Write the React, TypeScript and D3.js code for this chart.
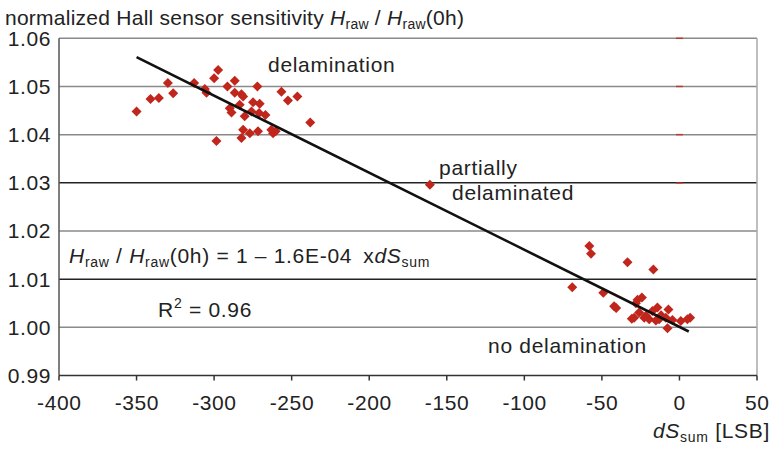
import React from "react";
import * as d3 from "d3";

const xTicks = [-400, -350, -300, -250, -200, -150, -100, -50, 0, 50];
const yTicks = [0.99, 1.0, 1.01, 1.02, 1.03, 1.04, 1.05, 1.06];
const darkGrid = [1.03, 1.01];

// delaminated cluster
const delamX = [-350.0, -341.0, -335.6, -329.8, -326.4, -312.9, -306.0, -304.9, -298.5, -300.0, -297.4, -291.4, -286.7, -286.7, -282.4, -289.9, -288.8, -283.5, -280.3, -275.9, -274.9, -270.6, -272.1, -271.0, -266.9, -281.3, -282.4, -277.0, -271.7, -263.1, -262.0, -260.3, -256.6, -252.4, -246.3, -238.0, -281.3];
const delamY = [1.0448, 1.0474, 1.0476, 1.0507, 1.0486, 1.0507, 1.0495, 1.0487, 1.0387, 1.0517, 1.0534, 1.0500, 1.0512, 1.0487, 1.0484, 1.0455, 1.0446, 1.0462, 1.0438, 1.0448, 1.0467, 1.0464, 1.0500, 1.0445, 1.0441, 1.0410, 1.0393, 1.0403, 1.0407, 1.0410, 1.0403, 1.0407, 1.0489, 1.0471, 1.0479, 1.0425, 1.0479];
// partially delaminated
const partialX = [-160.9];
const partialY = [1.0296];
// no delamination cluster
const okX = [-69.1, -58.1, -57.0, -49.1, -42.1, -40.8, -33.5, -16.8, -30.7, -27.0, -24.2, -28.1, -26.0, -21.6, -17.4, -14.2, -7.1, -7.7, -13.1, -8.8, -4.5, 0.9, 5.1, 6.9, -19.5, -22.7, -29.2, -15.2, -11.8];
const okY = [1.0083, 1.0169, 1.0153, 1.0072, 1.0044, 1.0040, 1.0135, 1.0120, 1.0018, 1.0057, 1.0062, 1.0050, 1.0031, 1.0024, 1.0034, 1.0041, 1.0037, 0.9998, 1.0017, 1.0020, 1.0015, 1.0013, 1.0017, 1.0020, 1.0017, 1.0020, 1.0020, 1.0014, 1.0025];

// small red dashes at x = 0
const dashX = 0;
const dashY = [1.06, 1.05, 1.04, 1.03];

// regression line
const fitIntercept = 1.0001;
const fitSlope = -1.6e-4;
const fitRange = [-350, 6];

const W = 775, H = 450;
const left = 59, right = 757, top = 38.3, bottom = 375.5;
const FONT = "'Liberation Sans', Arial, Helvetica, sans-serif";
const RED = "#c1261c";

export default function App() {
  const x = d3.scaleLinear().domain([-400, 50]).range([left, right]);
  const y = d3.scaleLinear().domain([0.99, 1.06]).range([bottom, top]);
  const fmtY = d3.format(".2f");

  const pts = [
    ...delamX.map((v, i) => [v, delamY[i]]),
    ...partialX.map((v, i) => [v, partialY[i]]),
    ...okX.map((v, i) => [v, okY[i]]),
  ];
  const diamond = (cx: number, cy: number, r: number) =>
    `M${cx},${cy - r}L${cx + r},${cy}L${cx},${cy + r}L${cx - r},${cy}Z`;

  const fitLine = d3.line<number>()
    .x((d) => x(d))
    .y((d) => y(fitIntercept + fitSlope * d))(fitRange);

  const fs = 21;
  const sub = 14;
  const ls = 0.7;

  return (
    <svg width={W} height={H} style={{ position: "absolute", left: 0, top: 0, background: "#fff" }} fontFamily={FONT}>
      {/* grid */}
      {yTicks.filter((t) => t > 0.995).map((t) => (
        <line key={t} x1={left} x2={right} y1={y(t)} y2={y(t)}
          stroke={darkGrid.includes(t) ? "#222" : "#8a8a8a"} strokeWidth={1.5} />
      ))}
      <line x1={right} x2={right} y1={top} y2={bottom} stroke="#a8a8a8" strokeWidth={1.5} />
      {/* red dashes */}
      {dashY.map((v) => (
        <line key={v} x1={x(dashX) - 3.5} x2={x(dashX) + 3.5} y1={y(v)} y2={y(v)} stroke={RED} strokeWidth={1.5} opacity={0.8} />
      ))}
      {/* axes */}
      <line x1={left} x2={left} y1={top} y2={bottom} stroke="#555" strokeWidth={1.5} />
      <line x1={left} x2={right} y1={bottom} y2={bottom} stroke="#333" strokeWidth={1.5} />
      {xTicks.map((t) => (
        <g key={t}>
          <line x1={x(t)} x2={x(t)} y1={bottom} y2={bottom + 5} stroke="#333" strokeWidth={1.5} />
          <text x={x(t) + 0.3} y={410} textAnchor="middle" fontSize={fs} letterSpacing={0.6} fill="#222">{t}</text>
        </g>
      ))}
      {yTicks.map((t) => (
        <text key={t} x={51} y={y(t) + 7.5} textAnchor="end" fontSize={fs} letterSpacing={0.6} fill="#222">{fmtY(t)}</text>
      ))}
      {/* points */}
      {pts.map(([a, b], i) => (
        <path key={i} d={diamond(x(a), y(b), 5)} fill={RED} />
      ))}
      {/* fit */}
      <path d={fitLine || ""} stroke="#111" strokeWidth={2.6} fill="none" />
      {/* title */}
      <text x={5} y={25} fontSize={fs} letterSpacing={0.25} fill="#222">
        normalized Hall sensor sensitivity <tspan fontStyle="italic">H</tspan>
        <tspan fontSize={sub} dy={4}>raw</tspan>
        <tspan dy={-4}> / </tspan>
        <tspan fontStyle="italic">H</tspan>
        <tspan fontSize={sub} dy={4}>raw</tspan>
        <tspan dy={-4}>(0h)</tspan>
      </text>
      {/* annotations */}
      <g letterSpacing={ls}>
        <text x={268} y={72} fontSize={fs} fill="#222">delamination</text>
        <text x={439} y={175} fontSize={fs} fill="#222">partially</text>
        <text x={452} y={200} fontSize={fs} fill="#222">delaminated</text>
        <text x={488} y={353} fontSize={fs} fill="#222">no delamination</text>
        <text x={69} y={263} fontSize={fs} fill="#222">
          <tspan fontStyle="italic">H</tspan>
          <tspan fontSize={sub} dy={4}>raw</tspan>
          <tspan dy={-4}> / </tspan>
          <tspan fontStyle="italic">H</tspan>
          <tspan fontSize={sub} dy={4}>raw</tspan>
          <tspan dy={-4}>(0h) = 1 – 1.6E-04</tspan>
          <tspan dx={11}>x</tspan>
          <tspan fontStyle="italic">dS</tspan>
          <tspan fontSize={sub} dy={4}>sum</tspan>
        </text>
        <text x={158} y={317} fontSize={fs} fill="#222">
          R<tspan fontSize={sub} dy={-9}>2</tspan>
          <tspan dy={9}> = 0.96</tspan>
        </text>
        <text x={770} y={438} textAnchor="end" fontSize={fs} fill="#222">
          <tspan fontStyle="italic">dS</tspan>
          <tspan fontSize={sub} dy={4}>sum</tspan>
          <tspan dy={-4}> [LSB]</tspan>
        </text>
      </g>
    </svg>
  );
}
